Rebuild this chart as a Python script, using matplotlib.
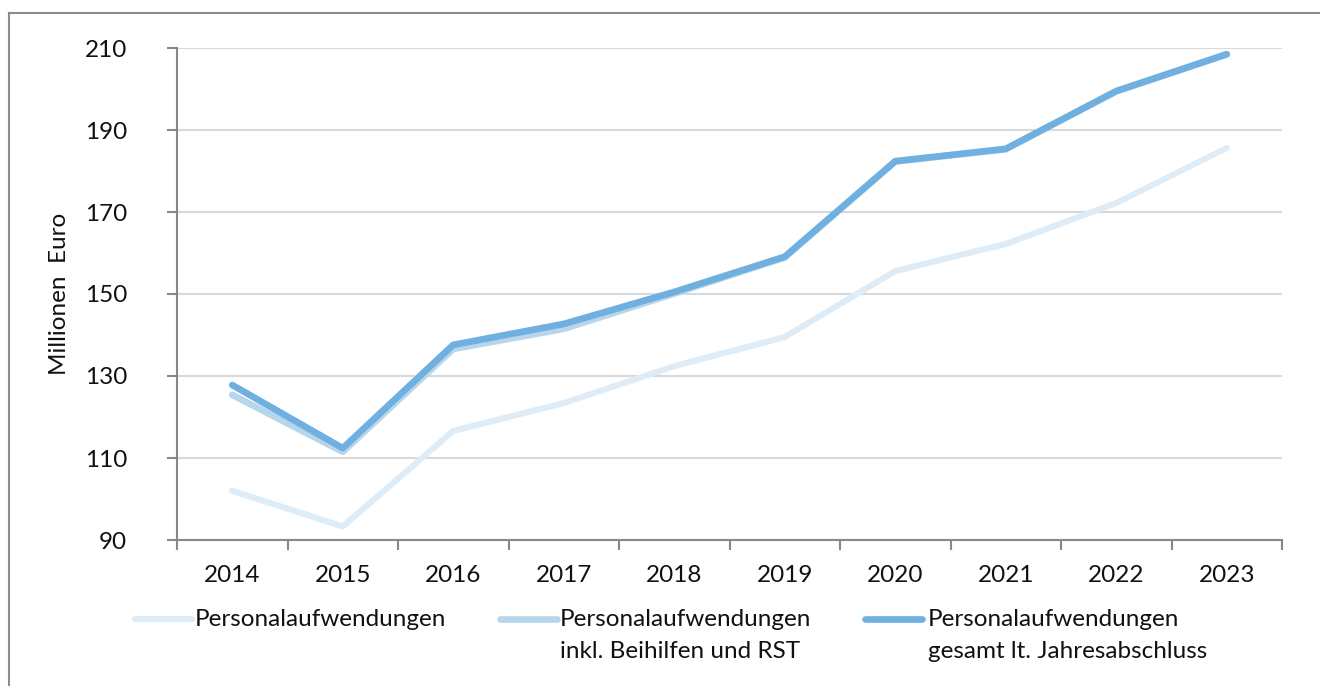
import numpy as np
import matplotlib
matplotlib.use("Agg")
import matplotlib.pyplot as plt
from matplotlib.lines import Line2D

plt.rcParams['font.family'] = ['Lato', 'DejaVu Sans']

years = ['2014', '2015', '2016', '2017', '2018', '2019', '2020', '2021', '2022', '2023']
personal = [102.0, 93.3, 116.6, 123.4, 132.4, 139.5, 155.6, 162.2, 172.2, 185.6]
personal_inkl = [125.4, 111.5, 136.6, 141.5, 150.1, 158.9, 182.3, 185.3, 199.4, 208.4]
personal_gesamt = [127.8, 112.4, 137.6, 142.7, 150.5, 159.1, 182.4, 185.4, 199.5, 208.5]
labels = ['Personalaufwendungen',
          'Personalaufwendungen\ninkl. Beihilfen und RST',
          'Personalaufwendungen\ngesamt lt. Jahresabschluss']
colors = ['#DEECF7', '#B7D5EB', '#6FB0E0']
widths = [4.4, 4.8, 4.8]
fs = 17.5

fig = plt.figure(figsize=(13.2, 6.86), dpi=100)
ax = fig.add_axes([177/1320, 1 - 540/686, (1282 - 177)/1320, (540 - 48)/686])

x = np.arange(len(years))
for vals, c, w in zip([personal, personal_inkl, personal_gesamt], colors, widths):
    ax.plot(x, vals, color=c, lw=w, solid_capstyle='round', solid_joinstyle='round')

ax.set_xlim(-0.5, len(years) - 0.5)
ax.set_ylim(90, 210)
ax.set_yticks(np.arange(90, 211, 20))
ax.yaxis.grid(True, color='#D9D9D9', lw=1.5)
ax.set_axisbelow(True)

# ticks between categories, labels centred on categories
ax.set_xticks(np.arange(-0.5, len(years)), labels=[''] * (len(years) + 1))
ax.set_xticks(x, labels=years, minor=True)
ax.tick_params(axis='x', which='major', direction='out', length=7, width=1.5, color='#888888')
ax.tick_params(axis='x', which='minor', length=0, pad=18, labelsize=fs, labelcolor='#111111')
ax.tick_params(axis='y', direction='out', length=7, width=1.5, color='#888888', pad=29,
               labelsize=fs, labelcolor='#111111')

for s in ['top', 'right']:
    ax.spines[s].set_visible(False)
for s in ['left', 'bottom']:
    ax.spines[s].set_color('#888888')
    ax.spines[s].set_linewidth(1.5)

fig.text(60/1320, 1 - 294/686, 'Millionen  Euro', rotation=90, ha='center', va='center',
         fontsize=fs, color='#111111')

# legend drawn by hand so the handle sits on the first text line
leg_x = [(135, 195), (500, 560), (865, 928)]
ly = 1 - 619/686
for (hx, tx), c, w, lab in zip(leg_x, colors, widths, labels):
    fig.add_artist(Line2D([hx/1320, (hx + 57)/1320], [ly, ly], color=c, lw=w,
                          solid_capstyle='round', transform=fig.transFigure))
    fig.text(tx/1320, 1 - 609/686, lab, ha='left', va='top', fontsize=fs,
             color='#111111', linespacing=1.65)

# outer frame (top and left edges visible)
fig.add_artist(Line2D([9/1320, 9/1320], [0, 1 - 13/686], color='#8C8C8C', lw=1.5,
                      transform=fig.transFigure))
fig.add_artist(Line2D([9/1320, 1], [1 - 13/686, 1 - 13/686], color='#8C8C8C', lw=1.5,
                      transform=fig.transFigure))

fig.savefig('out.png', dpi=100)
